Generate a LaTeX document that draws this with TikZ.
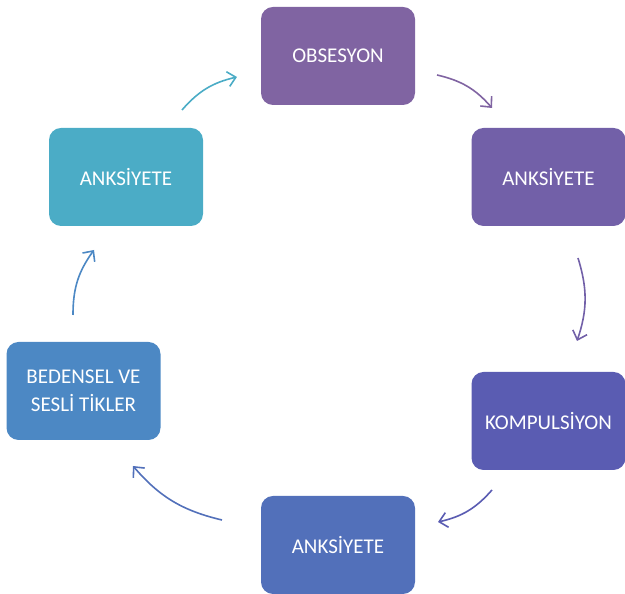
\documentclass[tikz,border=0pt]{standalone}
\usepackage{fontspec}
\setmainfont{Carlito}
\usetikzlibrary{arrows.meta}
\definecolor{cA}{RGB}{128,100,162}
\definecolor{cB}{RGB}{114,96,168}
\definecolor{cC}{RGB}{90,92,178}
\definecolor{cD}{RGB}{82,112,186}
\definecolor{cE}{RGB}{76,136,196}
\definecolor{cF}{RGB}{75,172,198}
\tikzset{
  box/.style={rounded corners=12pt, minimum width=154pt, minimum height=98pt, inner sep=0pt,
    text=white, align=center, font=\fontsize{21}{28}\selectfont},
  arr/.style={line width=1.6pt, -{Straight Barb[length=8pt,width=15pt,line width=1.6pt]}, bend left=18}
}
\begin{document}
\begin{tikzpicture}[x=1pt,y=1pt]
\useasboundingbox (0,0) rectangle (625,594);
\node[box, fill=cA] (obs) at (338,538) {OBSESYON};
\node[box, fill=cB] (ank1) at (548.5,417) {ANKSİYETE};
\node[box, fill=cC] (komp) at (548.5,173) {KOMPULSİYON};
\node[box, fill=cD] (ank2) at (338,49) {ANKSİYETE};
\node[box, fill=cE] (bed) at (83.5,203) {BEDENSEL VE\\SESLİ TİKLER};
\node[box, fill=cF] (ank3) at (126,417) {ANKSİYETE};
\coordinate (a1s) at (437,519); \coordinate (a1e) at (492,486);
\coordinate (a2s) at (578,336); \coordinate (a2e) at (577,253);
\coordinate (a3s) at (492,104); \coordinate (a3e) at (438,72);
\coordinate (a4s) at (222,74); \coordinate (a4e) at (133,128);
\coordinate (a5s) at (73,279); \coordinate (a5e) at (94,344);
\coordinate (a6s) at (182,484); \coordinate (a6e) at (237,517);
\draw[arr, draw=cA] (a1s) to (a1e);
\draw[arr, draw=cB] (a2s) to (a2e);
\draw[arr, draw=cC] (a3s) to (a3e);
\draw[arr, draw=cD] (a4s) to (a4e);
\draw[arr, draw=cE] (a5s) to (a5e);
\draw[arr, draw=cF] (a6s) to (a6e);
\end{tikzpicture}
\end{document}
